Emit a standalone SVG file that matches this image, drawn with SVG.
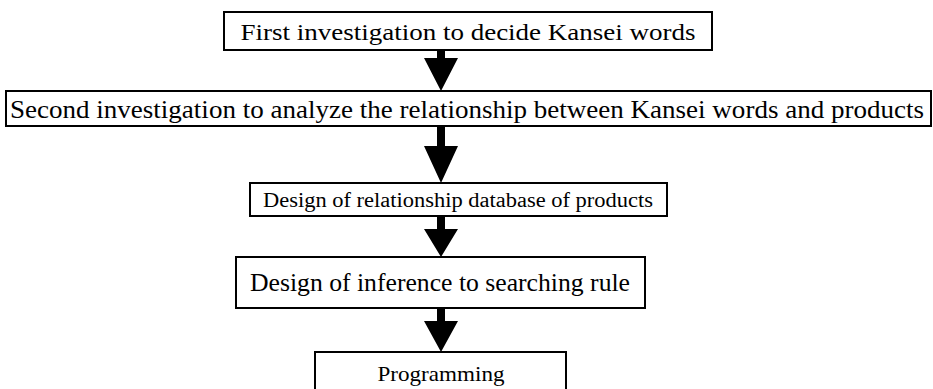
<svg xmlns="http://www.w3.org/2000/svg" width="933" height="389" viewBox="0 0 933 389">
<style>
.box{fill:#fff;stroke:#000;stroke-width:2}
.t{font-family:"Liberation Serif","Times New Roman",serif;fill:#000;text-anchor:middle}
.arr{fill:#000;stroke:none}
</style>
<rect width="933" height="389" fill="#fff"/>
<g id="connectors">
<path class="arr" d="M437,50 H445 V58 H458 L441,91 L424,58 H437 Z"/>
<path class="arr" d="M437,126 H445 V146 H458 L441,183 L424,146 H437 Z"/>
<path class="arr" d="M437,216 H445 V229 H458 L441,257 L424,229 H437 Z"/>
<path class="arr" d="M437,308 H445 V321 H458 L441,352 L424,321 H437 Z"/>
</g>
<g id="n1">
<rect class="box" x="224" y="12" width="488" height="38"/>
<text class="t" x="468" y="40" font-size="24" textLength="455" lengthAdjust="spacingAndGlyphs">First investigation to decide Kansei words</text>
</g>
<g id="n2">
<rect class="box" x="6" y="91" width="925" height="35"/>
<text class="t" x="467" y="118" font-size="26" textLength="914" lengthAdjust="spacingAndGlyphs">Second investigation to analyze the relationship between Kansei words and products</text>
</g>
<g id="n3">
<rect class="box" x="250" y="183" width="417" height="33"/>
<text class="t" x="458" y="207" font-size="20" textLength="390" lengthAdjust="spacingAndGlyphs">Design of relationship database of products</text>
</g>
<g id="n4">
<rect class="box" x="236" y="257" width="409" height="51"/>
<text class="t" x="440" y="291" font-size="25" textLength="380" lengthAdjust="spacingAndGlyphs">Design of inference to searching rule</text>
</g>
<g id="n5">
<rect class="box" x="315" y="352" width="251" height="50"/>
<text class="t" x="441" y="381" font-size="21" textLength="127" lengthAdjust="spacingAndGlyphs">Programming</text>
</g>
</svg>
